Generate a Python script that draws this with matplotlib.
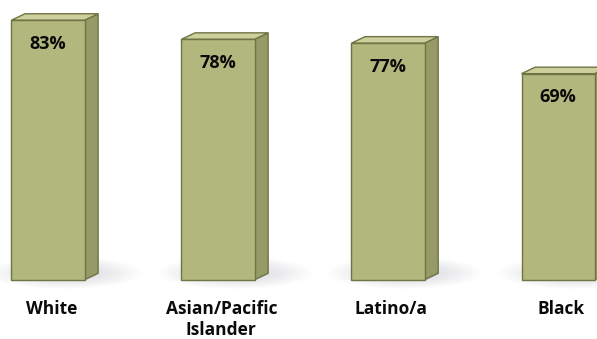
import matplotlib
matplotlib.use("Agg")
import matplotlib.pyplot as plt
from matplotlib.patches import Polygon, Ellipse

categories = ["White", "Asian/Pacific\nIslander", "Latino/a", "Black"]
values = [83, 78, 77, 69]
value_labels = ["83%", "78%", "77%", "69%"]

base = 15.0
bw = 0.43
dx = 0.08
dy = 1.7

front_c = "#B1B77D"
side_c = "#959A66"
top_c = "#CDD09C"
edge_c = "#6F7445"

fig = plt.figure(figsize=(5.97, 3.39), dpi=100)
ax = fig.add_axes([0, 0, 1, 1])
ax.set_xlim(-0.282, 3.229)
ax.set_ylim(-0.5, 88.3)
ax.axis("off")

for i, (v, lab, cat) in enumerate(zip(values, value_labels, categories)):
    x0 = i - bw / 2
    x1 = i + bw / 2
    # shadow
    for k in range(14):
        f = 1 - k / 14
        ax.add_patch(Ellipse((i + 0.1, base + 1.8), 0.8 * f + 0.1, 7.5 * f + 0.8,
                             facecolor="#8a92a3", edgecolor="none", alpha=0.022, zorder=1))
    # side
    ax.add_patch(Polygon([(x1, base), (x1 + dx, base + dy), (x1 + dx, v + dy), (x1, v)],
                         closed=True, facecolor=side_c, edgecolor=edge_c, lw=1, zorder=2))
    # top
    ax.add_patch(Polygon([(x0, v), (x1, v), (x1 + dx, v + dy), (x0 + dx, v + dy)],
                         closed=True, facecolor=top_c, edgecolor=edge_c, lw=1, zorder=2))
    # front
    ax.add_patch(Polygon([(x0, base), (x1, base), (x1, v), (x0, v)],
                         closed=True, facecolor=front_c, edgecolor=edge_c, lw=1, zorder=3))
    ax.text(i, v - 6.2, lab, ha="center", va="center", fontsize=13, fontweight="bold",
            family=["Open Sans", "DejaVu Sans"], color="#0a0a0a", zorder=4)
    ax.text(i + 0.02, 9.7, cat, ha="center", va="top", fontsize=12.5, fontweight="bold",
            family=["Open Sans", "DejaVu Sans"], color="#0a0a0a", linespacing=1.2, zorder=4)

fig.savefig("out.png", dpi=100)
